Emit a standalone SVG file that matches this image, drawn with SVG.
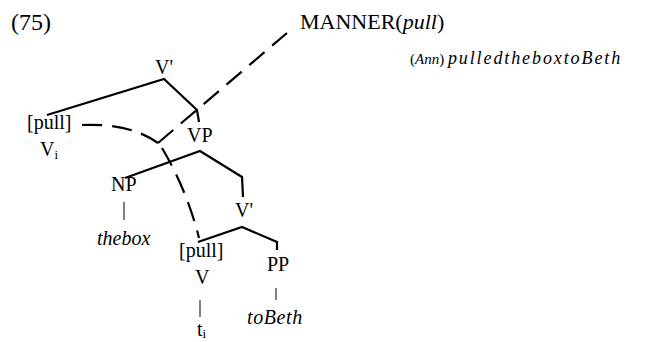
<svg xmlns="http://www.w3.org/2000/svg" width="647" height="342" viewBox="0 0 647 342">
<style>
text{font-family:"Liberation Serif","Times New Roman",serif;fill:#000}
.n{font-size:20px}
.it{font-style:italic}
.sub{font-size:13px}
.br{fill:none;stroke:#000;stroke-width:2.2;stroke-linejoin:miter}
.th{fill:none;stroke:#000;stroke-width:1}
.da{fill:none;stroke:#000;stroke-width:2.2;stroke-dasharray:20 10}
</style>
<rect width="647" height="342" fill="#fff"/>
<text x="11" y="30" style="font-size:24px">(75)</text>
<g id="manner"><text x="300" y="29" style="font-size:22px">MANNER(<tspan class="it">pull</tspan>)</text></g>
<g id="gloss"><text x="410" y="64" style="font-size:15px">(<tspan class="it">Ann</tspan>) <tspan class="it" style="font-size:18px;letter-spacing:1.9px">pulledtheboxtoBeth</tspan></text></g>
<g id="vbar-top"><text class="n" x="155" y="74">V'</text></g>
<g id="pull-top"><text class="n" x="27" y="129">[pull]</text><text class="n" x="40" y="156">V<tspan class="sub" dy="3">i</tspan></text></g>
<g id="vp"><text class="n" x="187" y="142">VP</text></g>
<g id="np"><text class="n" x="111" y="191">NP</text></g>
<g id="thebox"><text class="n it" x="97" y="245">thebox</text></g>
<g id="vbar-low"><text class="n" x="235" y="217">V'</text></g>
<g id="pull-low"><text class="n" x="179" y="257">[pull]</text><text class="n" x="195" y="284">V</text></g>
<g id="trace"><text class="n" x="197" y="336">t<tspan class="sub" dy="2">i</tspan></text></g>
<g id="pp"><text class="n" x="267" y="271">PP</text></g>
<g id="tobeth"><text class="n it" x="247" y="324" style="letter-spacing:0.6px">toBeth</text></g>
<g id="connectors">
<polyline class="br" points="47,115 164,79 197,110 199,122"/>
<polyline class="br" points="125,178 200,151 242,177 243,197"/>
<polyline class="br" points="198,242 242,227 277,242 277,250"/>
<line class="th" x1="124" y1="202" x2="124" y2="220"/>
<line class="th" x1="200" y1="300" x2="200" y2="317"/>
<line class="th" x1="276" y1="288" x2="276" y2="300"/>
<path class="da" d="M82,125 Q130,123 158,143"/>
<path class="da" d="M158,143 L287,33"/>
<path class="da" d="M162,148 Q187,190 199,238"/>
</g>
</svg>
